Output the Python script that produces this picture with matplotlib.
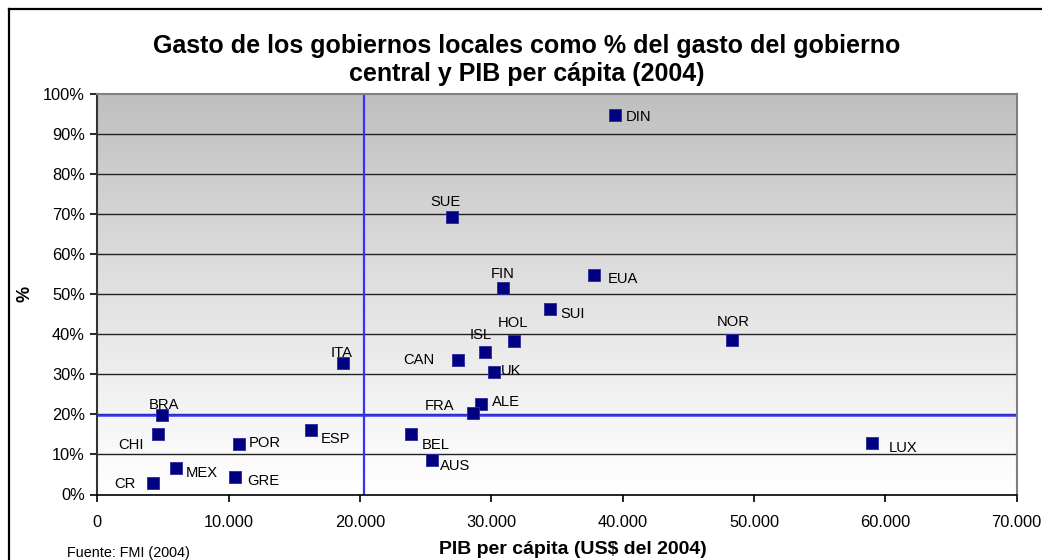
import matplotlib
matplotlib.use("Agg")
import matplotlib.pyplot as plt
import numpy as np
from matplotlib.ticker import FuncFormatter
from matplotlib.lines import Line2D

plt.rcParams['font.family'] = ['Liberation Sans', 'DejaVu Sans']

# ---- data ----
countries = ["DIN", "SUE", "FIN", "EUA", "SUI", "HOL", "NOR", "ISL", "CAN", "UK",
             "ITA", "ALE", "FRA", "BRA", "CHI", "POR", "ESP", "BEL", "AUS", "MEX",
             "GRE", "CR", "LUX"]
pib = [39450, 27000, 30900, 37800, 34500, 31700, 48300, 29500, 27500, 30200,
       18700, 29200, 28600, 4900, 4600, 10800, 16250, 23900, 25500, 6000,
       10500, 4250, 59000]
gasto = [94.7, 69.4, 51.6, 54.9, 46.2, 38.3, 38.6, 35.5, 33.6, 30.5,
         32.8, 22.5, 20.3, 19.9, 15.2, 12.7, 16.1, 15.1, 8.7, 6.5,
         4.3, 2.9, 12.8]
ref_x = 20300   # vertical reference line (PIB per cápita)
ref_y = 19.8    # horizontal reference line (%)
x_ticks = [0, 10000, 20000, 30000, 40000, 50000, 60000, 70000]
y_ticks = [0, 10, 20, 30, 40, 50, 60, 70, 80, 90, 100]

title = "Gasto de los gobiernos locales como % del gasto del gobierno\ncentral y PIB per cápita (2004)"
xlabel = "PIB per cápita (US$ del 2004)"
ylabel = "%"
source = "Fuente: FMI (2004)"

# label offsets in pixels (dx right, dy down) and alignment
label_style = {
    "DIN": (10, 2, "left"), "SUE": (-6, -15, "center"), "FIN": (0, -14, "center"),
    "EUA": (14, 4, "left"), "SUI": (10, 5, "left"), "HOL": (-1, -18, "center"),
    "NOR": (2, -18, "center"), "ISL": (-4, -17, "center"), "CAN": (-24, 0, "right"),
    "UK": (7, -1, "left"), "ITA": (-1, -10, "center"), "ALE": (11, -2, "left"),
    "FRA": (-19, -7, "right"), "BRA": (2, -10, "center"), "CHI": (-14, 11, "right"),
    "POR": (10, -1, "left"), "ESP": (10, 9, "left"), "BEL": (11, 11, "left"),
    "AUS": (8, 6, "left"), "MEX": (10, 5, "left"), "GRE": (12, 4, "left"),
    "CR": (-17, 1, "right"), "LUX": (17, 5, "left"),
}

W, H = 1042, 560
fig = plt.figure(figsize=(W / 100, H / 100), dpi=100)
fig.patch.set_facecolor("white")

# outer frame (left and top visible)
fig.add_artist(Line2D([8.5 / W, 8.5 / W], [0, 1 - 8.5 / H], transform=fig.transFigure,
                      color="black", lw=1.6))
fig.add_artist(Line2D([8.5 / W, 1], [1 - 8.5 / H, 1 - 8.5 / H], transform=fig.transFigure,
                      color="black", lw=1.6))

left, right = 97.3 / W, 1016.7 / W
top, bottom = 1 - 94 / H, 1 - 494.5 / H
ax = fig.add_axes([left, bottom, right - left, top - bottom])

# gradient background: gray at top -> white at bottom
grad = np.linspace(0, 1, 256).reshape(-1, 1)   # 0 bottom, 1 top
shade = 1.0 - 0.25 * grad ** 1.1
ax.imshow(np.dstack([shade] * 3), extent=[0, 1, 0, 1], transform=ax.transAxes,
          aspect="auto", origin="lower", zorder=0)

ax.set_xlim(0, 70000)
ax.set_ylim(0, 100)
ax.set_xticks(x_ticks)
ax.set_yticks(y_ticks)
ax.xaxis.set_major_formatter(FuncFormatter(lambda v, p: "0" if v == 0 else f"{int(v):,}".replace(",", ".")))
ax.yaxis.set_major_formatter(FuncFormatter(lambda v, p: f"{int(v)}%"))
ax.tick_params(axis="both", direction="out", length=5, width=1.2, labelsize=11.8, colors="black")
ax.tick_params(axis="x", pad=10)
ax.tick_params(axis="y", pad=4)

for y in y_ticks[1:-1]:
    ax.axhline(y, color="#222222", lw=1.0, zorder=1)

ax.spines["left"].set_color("#333333")
ax.spines["left"].set_linewidth(1.5)
ax.spines["bottom"].set_color("black")
ax.spines["bottom"].set_linewidth(1.2)
ax.spines["top"].set_color("#808080")
ax.spines["top"].set_linewidth(1.5)
ax.spines["right"].set_color("#808080")
ax.spines["right"].set_linewidth(1.5)

ax.axvline(ref_x, color="#3333ff", lw=1.6, zorder=2)
ax.axhline(ref_y, color="#3333ff", lw=1.8, zorder=2)

ax.scatter(pib, gasto, marker="s", s=80, color="#000080", edgecolors="#2a2aa0",
           linewidths=0.6, zorder=4)

for name, x, y in zip(countries, pib, gasto):
    dx, dy, ha = label_style[name]
    ax.annotate(name, (x, y), xytext=(dx, -dy), textcoords="offset pixels",
                ha=ha, va="center", fontsize=10.6, color="black", zorder=5)

fig.text(527 / W, 1 - 60 / H, title, ha="center", va="center", fontsize=18,
         fontweight="bold", linespacing=1.2)
fig.text(573 / W, 1 - 549 / H, xlabel, ha="center", va="center", fontsize=14,
         fontweight="bold")
fig.text(25 / W, 1 - 294 / H, ylabel, ha="center", va="center", fontsize=13,
         fontweight="bold", rotation=90)
fig.text(67 / W, 1 - 553 / H, source, ha="left", va="center", fontsize=10.4)

fig.savefig("out.png", dpi=100)
